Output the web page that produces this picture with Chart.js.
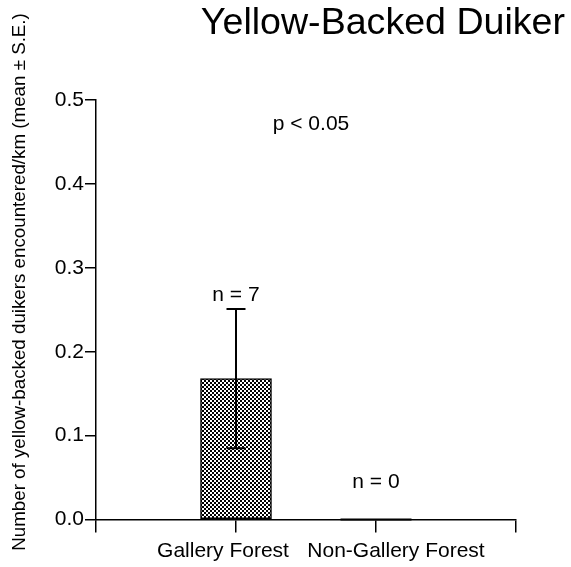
<!DOCTYPE html>
<html>
<head>
<meta charset="utf-8">
<script src="https://cdn.jsdelivr.net/npm/chart.js@4/dist/chart.umd.min.js"></script>
<style>
  html, body { margin: 0; padding: 0; background: #fff; }
  #wrap { width: 571px; height: 567px; }
</style>
</head>
<body>
<div id="wrap"><canvas id="c" width="571" height="567"></canvas></div>
<script>
// Encounter rates of yellow-backed duikers by habitat
const categories = ['Gallery Forest', 'Non-Gallery Forest'];
const means = [0.168, 0];
const stdErrors = [0.083, 0];
const sampleSizes = [7, 0];
const yTicks = [0, 0.1, 0.2, 0.3, 0.4, 0.5];
// vertical position (in data units) of each "n = " label
const nLabelAt = [0.267, 0.045];
const significance = 'p < 0.05';
const significanceAt = 0.471;

const FONT = "'Liberation Sans', Arial, Helvetica, sans-serif";
// horizontal nudge (px) of each category name so the two long names don't collide
const labelNudge = [-13, 20];

// padded category axis: empty slots before and after the two habitats
const axisLabels = ['', ...categories, ''];
const barValues = [null, ...means, null];

// fine 2px black/white checkerboard fill
function checkerPattern() {
  const p = document.createElement('canvas');
  p.width = 4; p.height = 4;
  const g = p.getContext('2d');
  g.fillStyle = '#fff'; g.fillRect(0, 0, 4, 4);
  g.fillStyle = '#000'; g.fillRect(0, 0, 2, 2); g.fillRect(2, 2, 2, 2);
  return g.createPattern(p, 'repeat');
}
const ctx = document.getElementById('c').getContext('2d');
const pattern = checkerPattern();

const overlay = {
  id: 'overlay',
  afterDatasetsDraw(chart) {
    const c = chart.ctx;
    const x = chart.scales.x, y = chart.scales.y;
    const meta = chart.getDatasetMeta(0);
    c.save();
    c.strokeStyle = '#000';
    c.fillStyle = '#000';
    c.textAlign = 'center';
    c.textBaseline = 'middle';
    categories.forEach((cat, i) => {
      const bar = meta.data[i + 1];
      const cx = bar.x;
      // zero-height bars still show their outline as a line on the baseline
      if (means[i] === 0) {
        c.lineWidth = 2;
        c.beginPath();
        c.moveTo(cx - bar.width / 2, bar.y);
        c.lineTo(cx + bar.width / 2, bar.y);
        c.stroke();
      }
      // standard error whiskers with caps at both ends
      if (stdErrors[i] > 0) {
        const top = y.getPixelForValue(means[i] + stdErrors[i]);
        const bot = y.getPixelForValue(means[i] - stdErrors[i]);
        const cap = 9.5;
        c.lineWidth = 2;
        c.beginPath();
        c.moveTo(cx, top); c.lineTo(cx, bot);
        c.moveTo(cx - cap, top); c.lineTo(cx + cap, top);
        c.moveTo(cx - cap, bot); c.lineTo(cx + cap, bot);
        c.stroke();
      }
      c.font = '21px ' + FONT;
      c.fillText('n = ' + sampleSizes[i], cx, y.getPixelForValue(nLabelAt[i]));
      // category name under its tick
      c.fillText(cat, x.getPixelForValue(i + 1) + labelNudge[i], x.top + 32);
    });
    // significance note between the two habitats
    const mid = (x.getPixelForValue(1) + x.getPixelForValue(2)) / 2 + 5;
    c.font = '21px ' + FONT;
    c.fillText(significance, mid, y.getPixelForValue(significanceAt));
    // vertical axis title
    c.translate(20, 282);
    c.rotate(-Math.PI / 2);
    c.font = '18.75px ' + FONT;
    c.fillText('Number of yellow-backed duikers encountered/km (mean \u00b1 S.E.)', 0, 0);
    c.restore();
  }
};

new Chart(ctx, {
  type: 'bar',
  data: {
    labels: axisLabels,
    datasets: [{
      data: barValues,
      backgroundColor: pattern,
      borderColor: '#000',
      borderWidth: 1.5,
      borderSkipped: false,
      barThickness: 71
    }]
  },
  options: {
    responsive: false,
    animation: false,
    events: [],
    layout: { padding: { left: 0, right: 6, top: 0, bottom: 0 } },
    plugins: {
      legend: { display: false },
      tooltip: { enabled: false },
      title: {
        display: true,
        text: 'Yellow-Backed Duiker',
        align: 'end',
        color: '#000',
        font: { family: FONT, size: 37.6, weight: 'normal', lineHeight: 1.2 },
        padding: { top: 1.5, bottom: 53.4 }
      }
    },
    scales: {
      x: {
        type: 'category',
        offset: false,
        grid: { display: true, offset: false, drawOnChartArea: false, drawTicks: true, tickLength: 13, color: '#000', lineWidth: 1.5 },
        border: { display: true, color: '#000', width: 1.5 },
        ticks: { display: false, autoSkip: false },
        afterFit(s) { s.height = 47.5; }
      },
      y: {
        min: 0, max: 0.5,
        afterBuildTicks(s) { s.ticks = yTicks.map(v => ({ value: v })); },
        grid: { display: true, drawOnChartArea: false, drawTicks: true, tickLength: 11, color: '#000', lineWidth: 1.5 },
        border: { display: true, color: '#000', width: 1.5 },
        ticks: { color: '#000', font: { family: FONT, size: 21 }, padding: 1, callback: v => Number(v).toFixed(1) },
        afterFit(s) { s.width = 96; }
      },
      spacer: {
        position: 'right',
        display: true,
        grid: { display: false },
        border: { display: false },
        ticks: { display: false },
        afterFit(s) { s.width = 49; }
      }
    }
  },
  plugins: [overlay]
});
</script>
</body>
</html>
